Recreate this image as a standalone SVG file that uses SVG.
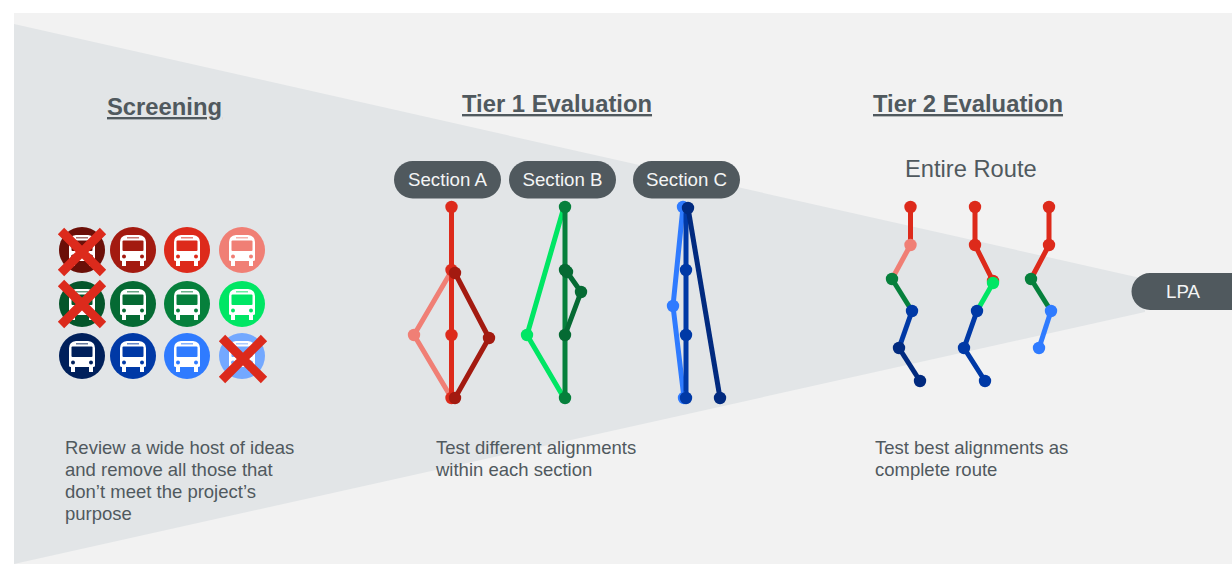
<svg xmlns="http://www.w3.org/2000/svg" width="1232" height="564" viewBox="0 0 1232 564">
<style>
text{font-family:"Liberation Sans",Arial,sans-serif;fill:#50595e}
.h{font-size:23.800px;font-weight:700;text-decoration:underline}
.b{font-size:18.500px}
.p{fill:#50595e}
.pt{font-size:18.700px;fill:#f4f5f5;text-anchor:middle}
.x{stroke:#dc2a1c;stroke-width:9;fill:none}
.l{fill:none;stroke-width:5;stroke-linejoin:round}
.r{stroke:#dd2a1b}.s{stroke:#f07f75}.d{stroke:#a31a10}
.g{stroke:#06803c}.lg{stroke:#00e664}.dg{stroke:#056a33}
.bl{stroke:#0039a6}.lb{stroke:#2f7bff}.n{stroke:#012a7f}
.fr{fill:#dd2a1b}.fs{fill:#f07f75}.fd{fill:#a31a10}
.fg{fill:#06803c}.flg{fill:#00e664}.fdg{fill:#056a33}
.fbl{fill:#0039a6}.flb{fill:#2f7bff}.fn{fill:#012a7f}
</style>
<defs>
<g id="bus">
<circle r="23" fill="currentColor"/>
<path fill="#fff" d="M-13-8Q-13-14-6-15H6Q13-14 13-8V10Q13 11 11 11V16H7V11H-7V16H-11V11Q-13 11-13 10Z"/>
<rect x="-10.500" y="-9.500" width="21" height="10.500" rx="1" fill="currentColor"/>
<rect x="-6" y="-13" width="12" height="1.500" fill="currentColor" opacity=".6"/>
<circle cx="-9" cy="6.500" r="2" fill="currentColor"/>
<circle cx="9" cy="6.500" r="2" fill="currentColor"/>
</g>
<path id="cross" class="x" d="M-21-21L21 21M21-21L-21 21"/>
</defs>
<rect x="14" y="13" width="1218" height="551" fill="#f2f2f2"/>
<polygon points="14,24 1145,279 1145,312 14,564" fill="#e2e5e7"/>

<g id="headings">
<text class="h" x="107" y="115">Screening</text>
<text class="h" x="462" y="112">Tier 1 Evaluation</text>
<text class="h" x="873" y="112">Tier 2 Evaluation</text>
<text x="905" y="177" font-size="23.700">Entire Route</text>
</g>

<g id="buses">
<use href="#bus" x="82" y="250" color="#6b0f08"/>
<use href="#bus" x="133" y="250" color="#a31a10"/>
<use href="#bus" x="187" y="250" color="#dd2a1b"/>
<use href="#bus" x="242" y="250" color="#f07f75"/>
<use href="#bus" x="82" y="304" color="#04562a"/>
<use href="#bus" x="133" y="304" color="#056a33"/>
<use href="#bus" x="187" y="304" color="#06803c"/>
<use href="#bus" x="242" y="304" color="#00e664"/>
<use href="#bus" x="82" y="356" color="#00205b"/>
<use href="#bus" x="133" y="356" color="#0039a6"/>
<use href="#bus" x="187" y="356" color="#2f7bff"/>
<use href="#bus" x="242" y="356" color="#73a8ff"/>
<use href="#cross" x="82" y="252"/>
<use href="#cross" x="82" y="304"/>
<use href="#cross" x="243" y="359"/>
</g>

<g id="section-a"><rect class="p" x="394" y="161" width="107" height="37.500" rx="18.700"/><text class="pt" x="447.500" y="185.500">Section A</text></g>
<g id="section-b"><rect class="p" x="509" y="161" width="107" height="37.500" rx="18.700"/><text class="pt" x="562.500" y="185.500">Section B</text></g>
<g id="section-c"><rect class="p" x="633" y="161" width="107" height="37.500" rx="18.700"/><text class="pt" x="686.500" y="185.500">Section C</text></g>
<g id="lpa"><path class="p" d="M1232 273H1150A18.500 18.500 0 0 0 1150 310H1232Z"/><text class="pt" x="1183" y="297.500">LPA</text></g>

<g id="connectors">
<path class="l s" d="M451.500 271L414 335L451.500 398"/>
<path class="l r" d="M451.500 207V398"/>
<path class="l d" d="M455 273L489 338L455 398"/>
<path class="l lg" d="M564 207L527 335L564 398"/>
<path class="l g" d="M565 207V398"/>
<path class="l dg" d="M567 272L581 292L565 335"/>
<path class="l lb" d="M683 207L673 306L684 398"/>
<path class="l bl" d="M686 207V398"/>
<path class="l n" d="M688 208L720 398"/>

<path class="l r" d="M910.500 207V245"/>
<path class="l s" d="M910.500 245L892 279"/>
<path class="l g" d="M892 279L912 311"/>
<path class="l bl" d="M912 311L899 348"/>
<path class="l n" d="M899 348L920 381"/>

<path class="l r" d="M975 207V245L993 281"/>
<path class="l lg" d="M993 283L977 311"/>
<path class="l bl" d="M977 311L964 348L985 381"/>

<path class="l r" d="M1049 207V245L1031 279"/>
<path class="l g" d="M1031 279L1051 311"/>
<path class="l lb" d="M1051 311L1039 348"/>
</g>

<g id="stops">
<g class="fr">
<circle cx="451.500" cy="207" r="6.200"/><circle cx="451.500" cy="270" r="6.200"/><circle cx="451.500" cy="335" r="6.200"/><circle cx="451.500" cy="398" r="6.200"/>
<circle cx="910.500" cy="207" r="6.200"/>
<circle cx="975" cy="207" r="6.200"/><circle cx="975" cy="245" r="6.200"/><circle cx="993" cy="281" r="6.200"/>
<circle cx="1049" cy="207" r="6.200"/><circle cx="1049" cy="245" r="6.200"/>
</g>
<g class="fs"><circle cx="414" cy="335" r="6.200"/><circle cx="910.500" cy="245" r="6.200"/></g>
<g class="fd"><circle cx="455" cy="273" r="6.200"/><circle cx="489" cy="338" r="6.200"/><circle cx="455" cy="398" r="6.200"/></g>
<g class="flg"><circle cx="527" cy="335" r="6.200"/><circle cx="993" cy="283" r="6.200"/></g>
<g class="fg"><circle cx="565" cy="207" r="6.200"/><circle cx="565" cy="398" r="6.200"/><circle cx="892" cy="279" r="6.200"/><circle cx="1031" cy="279" r="6.200"/></g>
<g class="fdg"><circle cx="565" cy="270" r="6.200"/><circle cx="567" cy="272" r="6.200"/><circle cx="581" cy="292" r="6.200"/><circle cx="565" cy="335" r="6.200"/></g>
<g class="flb"><circle cx="683" cy="207" r="6.200"/><circle cx="673" cy="306" r="6.200"/><circle cx="684" cy="398" r="6.200"/><circle cx="1051" cy="311" r="6.200"/><circle cx="1039" cy="348" r="6.200"/></g>
<g class="fbl"><circle cx="686" cy="270" r="6.200"/><circle cx="686" cy="335" r="6.200"/><circle cx="686" cy="398" r="6.200"/><circle cx="912" cy="311" r="6.200"/><circle cx="977" cy="311" r="6.200"/><circle cx="964" cy="348" r="6.200"/><circle cx="985" cy="381" r="6.200"/></g>
<g class="fn"><circle cx="688" cy="208" r="6.200"/><circle cx="720" cy="398" r="6.200"/><circle cx="899" cy="348" r="6.200"/><circle cx="920" cy="381" r="6.200"/></g>
</g>

<g id="notes">
<text class="b" x="65" y="454">Review a wide host of ideas</text>
<text class="b" x="65" y="476">and remove all those that</text>
<text class="b" x="65" y="498">don’t meet the project’s</text>
<text class="b" x="65" y="520">purpose</text>
<text class="b" x="436" y="454">Test different alignments</text>
<text class="b" x="436" y="476">within each section</text>
<text class="b" x="875" y="454">Test best alignments as</text>
<text class="b" x="875" y="476">complete route</text>
</g>
</svg>
